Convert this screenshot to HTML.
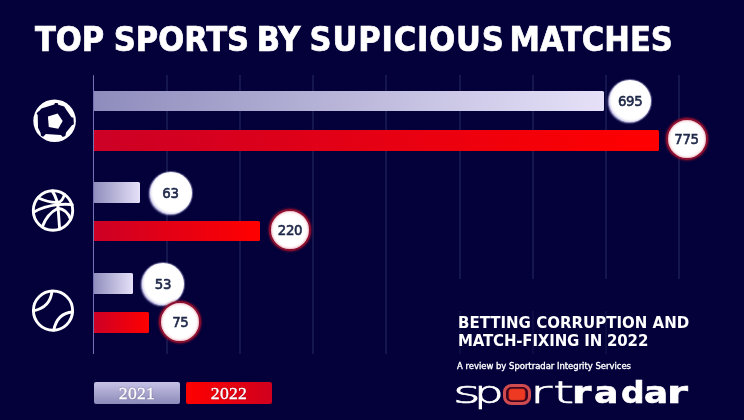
<!DOCTYPE html>
<html>
<head>
<meta charset="utf-8">
<style>
*{margin:0;padding:0;box-sizing:border-box}
html,body{width:744px;height:420px;overflow:hidden;background:#03003a}
body{position:relative;font-family:"DejaVu Sans","Liberation Sans",sans-serif}
.a{position:absolute;white-space:nowrap}
.t{position:absolute;top:19px;font-family:"DejaVu Sans Condensed","DejaVu Sans","Liberation Sans",sans-serif;font-stretch:condensed;font-weight:bold;color:#fff;font-size:34px;line-height:40px;white-space:nowrap;-webkit-text-stroke:0.7px #fff}
.g{position:absolute;width:2px;background:#16164e}
.bar{position:absolute;border-radius:0 1.5px 1.5px 0}
.b1{background:linear-gradient(90deg,#8e8cbc,#e6e1f8)}
.b2{background:linear-gradient(90deg,#cc0026,#ff0000)}
.bub{position:absolute;width:42px;height:42px;border-radius:50%;background:#fff;color:#1d2748;font-family:"DejaVu Sans Condensed","DejaVu Sans",sans-serif;font-stretch:condensed;font-size:14.8px;letter-spacing:-0.3px;-webkit-text-stroke:0.6px #1d2748;text-align:center;line-height:42px}
.bub1{box-shadow:inset 1px -1px 2px rgba(185,180,225,.6), -1px 1px 2px rgba(175,170,220,.85), 0 0 1px 1px rgba(205,200,240,.5)}
.bub2{border:2px solid #8e1030;line-height:38px;box-shadow:inset 0 0 2px 1px rgba(225,130,150,.55), 0 0 2px 1px rgba(140,15,45,.6)}
.leg{position:absolute;top:382px;height:21.5px;border-radius:2px;color:#fff;font-family:"Liberation Serif","DejaVu Serif",serif;font-size:17.6px;text-align:center;line-height:22px;letter-spacing:0.3px;-webkit-text-stroke:0.35px #fff;text-shadow:0 0 1.5px rgba(40,20,60,.75)}
.lt,.lb{position:absolute;top:0;transform-origin:0 0;font-weight:200;-webkit-text-stroke:0.7px #fff}
.lb{font-weight:bold;-webkit-text-stroke:0.6px #fff}
.lo{position:absolute;left:503.4px;top:7.8px;width:27.8px;height:21.6px;border:3.2px solid #cf4b4f;border-radius:8.5px/8px;background:#ee3a22;box-shadow:inset 2.7px 0 1px #3b0520,inset -2.7px 0 1px #3b0520,inset 0 1.8px 1px #3b0520,inset 0 -1.8px 1px #3b0520;color:transparent;font-size:10px;line-height:14px;text-align:center}
</style>
</head>
<body>
<div id="w" style="position:absolute;left:0;top:0;width:744px;height:420px;filter:blur(0.35px)">
<div class="t" style="left:35px">TOP</div>
<div class="t" style="left:113.7px">SPORTS</div>
<div class="t" style="left:256.7px">BY</div>
<div class="t" style="left:309.6px;letter-spacing:0.85px">SUPICIOUS</div>
<div class="t" style="left:509.5px">MATCHES</div>

<svg class="a" style="left:0;top:0" width="744" height="420" viewBox="0 0 744 420">
<circle cx="54.6" cy="120.8" r="21.3" fill="#fff"/>
<path fill="#03003a" d="M41.42,108.45 L54.26,104.47 L55.00,102.99 L57.66,102.99 L58.25,104.76 L64.15,106.53 L65.78,108.90 L71.53,117.31 L73.45,117.75 L73.90,124.25 L71.98,125.13 L66.07,132.51 L65.33,136.06 L62.68,136.94 L60.90,135.02 L45.85,133.99 L43.19,136.65 L40.98,135.76 L40.53,132.81 L38.02,127.64 L37.73,115.10 L36.55,113.62 L38.02,111.85 L39.50,110.67 Z"/>
<path fill="#fff" d="M62.68,121.00 L58.25,128.68 L48.80,126.90 L47.91,116.57 L57.66,113.62 Z"/>
<g fill="none" stroke="#fff" stroke-width="2.9" stroke-linecap="round">
<circle cx="53" cy="210.5" r="19.7"/>
<path d="M52.2,190.9 Q58.3,200 58.4,212 L59.6,229"/>
<path d="M38,197.8 C45,201 52,202.8 58,202.4 C61.5,202 63.2,199 64.4,194.5"/>
<path d="M33.5,212.3 C40,208.2 49,205.6 58,204.6 C64,204 68,204 72.3,204.6"/>
<path d="M42.3,226.8 C45.5,218 50.5,212 58,208.3 C64,209 68.5,213.5 70.6,219.3"/>
<circle cx="53" cy="310.6" r="19.6"/>
<path d="M52,291.2 C51,300.5 45.5,308.5 33.5,310.8"/>
<path d="M72.5,312 C63,312.8 56,319 53.8,330.1"/>
</g>
</svg>

<!-- gridlines -->
<div class="g" style="left:165.95px;top:75px;height:279px"></div>
<div class="g" style="left:239.10px;top:75px;height:279px"></div>
<div class="g" style="left:312.25px;top:75px;height:279px"></div>
<div class="g" style="left:385.40px;top:75px;height:279px"></div>
<div class="g" style="left:458.55px;top:75px;height:204px"></div>
<div class="g" style="left:531.70px;top:75px;height:204px"></div>
<div class="g" style="left:604.85px;top:75px;height:204px"></div>
<div class="g" style="left:678.00px;top:75px;height:204px"></div>
<div class="g" style="left:458.55px;top:311px;height:43px;opacity:.5"></div>
<div class="g" style="left:531.70px;top:311px;height:43px;opacity:.5"></div>
<div class="g" style="left:604.85px;top:311px;height:43px;opacity:.5"></div>

<!-- bars -->
<div class="bar b1" style="left:93px;top:91px;width:510.5px;height:20px"></div>
<div class="bar b2" style="left:93px;top:130px;width:565.5px;height:20.5px"></div>
<div class="bar b1" style="left:93px;top:182px;width:47px;height:20.5px"></div>
<div class="bar b2" style="left:93px;top:220.5px;width:167px;height:20.5px"></div>
<div class="bar b1" style="left:93px;top:273px;width:40px;height:20.5px"></div>
<div class="bar b2" style="left:93px;top:312px;width:56px;height:20.5px"></div>

<div class="g" style="left:92.7px;top:75px;height:279px;width:1.7px;background:#7472b4;border-radius:1px"></div>

<!-- bubbles -->
<div class="bub bub1" style="left:609.2px;top:80px">695</div>
<div class="bub bub2" style="left:665.5px;top:118px">775</div>
<div class="bub bub1" style="left:149.5px;top:171.5px">63</div>
<div class="bub bub2" style="left:269px;top:209px">220</div>
<div class="bub bub1" style="left:142px;top:263px">53</div>
<div class="bub bub2" style="left:159.3px;top:301.4px">75</div>

<!-- legend -->
<div class="leg" style="left:94px;width:86px;background:linear-gradient(180deg,#c6c2e6,#8c8ab8)">2021</div>
<div class="leg" style="left:186px;width:86px;background:linear-gradient(90deg,#ff0000,#d0001e)">2022</div>

<!-- right text -->
<div class="a" style="left:458px;top:313.6px;color:#fff;font-weight:bold;font-size:15px;line-height:18px">BETTING CORRUPTION AND</div>
<div class="a" style="left:458px;top:331.8px;color:#fff;font-weight:bold;font-size:15px;line-height:18px;letter-spacing:-0.17px">MATCH-FIXING IN 2022</div>
<div class="a" style="left:457px;top:360px;color:#fff;font-family:'DejaVu Sans Condensed','DejaVu Sans',sans-serif;font-stretch:condensed;font-size:9.4px;line-height:12px;-webkit-text-stroke:0.35px #fff">A review by Sportradar Integrity Services</div>
<div class="a" style="left:0;top:376px;width:744px;height:40px;color:#fff;font-size:30px;line-height:34px">
<span class="lt" style="left:452.5px;transform:scaleX(1.77)">s</span><span class="lt" style="left:474px;transform:scaleX(1.56)">p</span><span class="lo">o</span><span class="lt" style="left:530px;transform:scaleX(1.79)">r</span><span class="lt" style="left:552.5px;transform:scaleX(1.8)">t</span><span class="lb" style="left:572.2px;transform:scaleX(1.31)">r</span><span class="lb" style="left:594.3px;transform:scaleX(1.21)">a</span><span class="lb" style="left:620.8px;transform:scaleX(1.1)">d</span><span class="lb" style="left:643.8px;transform:scaleX(1.19)">a</span><span class="lb" style="left:667.2px;transform:scaleX(1.41)">r</span>
</div>
</div>
</body>
</html>
